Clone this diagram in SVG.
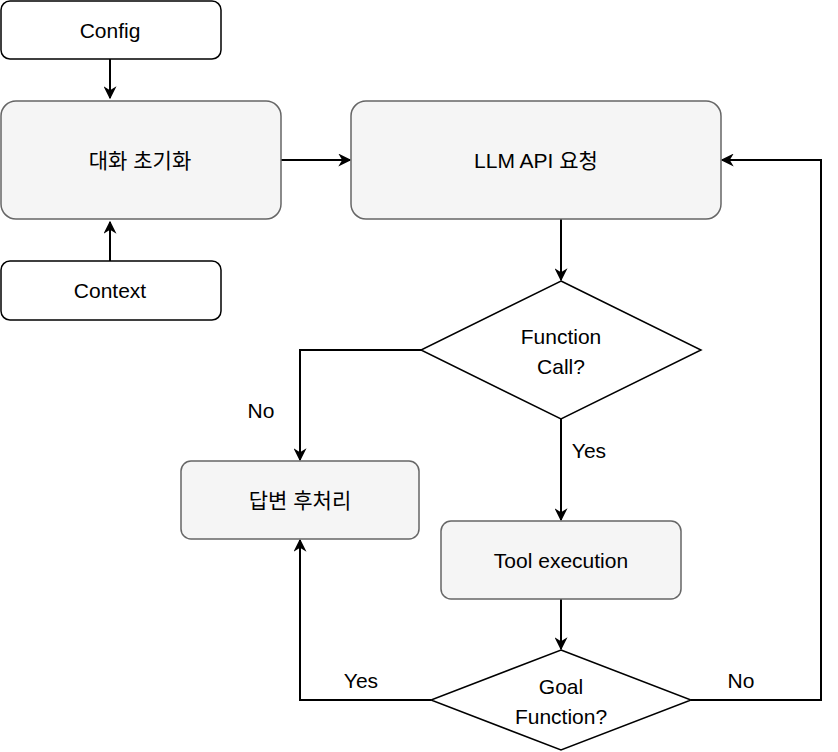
<svg xmlns="http://www.w3.org/2000/svg" width="838" height="752" viewBox="0 0 838 752">
<style>
text{font-family:"Liberation Sans","Noto Sans CJK KR",sans-serif;font-size:21px;fill:#000;text-anchor:middle;dominant-baseline:central}
.w{fill:#fff;stroke:#000;stroke-width:1.5}
.g{fill:#f5f5f5;stroke:#666;stroke-width:1.5}
.c{fill:none;stroke:#000;stroke-width:2}
</style>
<defs><marker id="a" viewBox="0 0 10 10" refX="9" refY="5" markerWidth="13" markerHeight="13" markerUnits="userSpaceOnUse" orient="auto"><path d="M0,0L10,5L0,10L3,5z" fill="#000"/></marker></defs>
<rect width="838" height="752" fill="#fff"/>
<g id="connectors">
<path class="c" d="M110,59V98" marker-end="url(#a)"/>
<path class="c" d="M110,261V222" marker-end="url(#a)"/>
<path class="c" d="M281,160H350" marker-end="url(#a)"/>
<path class="c" d="M561,219V280" marker-end="url(#a)"/>
<path class="c" d="M421,350H300V460" marker-end="url(#a)"/>
<path class="c" d="M561,419V520" marker-end="url(#a)"/>
<path class="c" d="M561,599V649" marker-end="url(#a)"/>
<path class="c" d="M431,700H300V540" marker-end="url(#a)"/>
<path class="c" d="M691,700H821V160H722" marker-end="url(#a)"/>
<text x="261" y="410">No</text>
<text x="589" y="450">Yes</text>
<text x="361" y="680">Yes</text>
<text x="741" y="680">No</text>
</g>
<g id="config"><rect class="w" x="1" y="1" width="220" height="58" rx="9"/><text x="110" y="30">Config</text></g>
<g id="init"><rect class="g" x="1" y="101" width="280" height="118" rx="15"/><text x="140" y="160">대화 초기화</text></g>
<g id="context"><rect class="w" x="1" y="261" width="220" height="59" rx="9"/><text x="110" y="290">Context</text></g>
<g id="llm"><rect class="g" x="351" y="101" width="370" height="118" rx="15"/><text x="536" y="160">LLM API 요청</text></g>
<g id="fc"><path class="w" d="M561,281L701,350L561,419L421,350z"/><text x="561" y="336">Function</text><text x="561" y="366">Call?</text></g>
<g id="post"><rect class="g" x="181" y="461" width="238" height="78" rx="10"/><text x="300" y="500">답변 후처리</text></g>
<g id="tool"><rect class="g" x="441" y="521" width="240" height="78" rx="10"/><text x="561" y="560">Tool execution</text></g>
<g id="goal"><path class="w" d="M561,650L691,700L561,750L431,700z"/><text x="561" y="686">Goal</text><text x="561" y="716">Function?</text></g>
</svg>
